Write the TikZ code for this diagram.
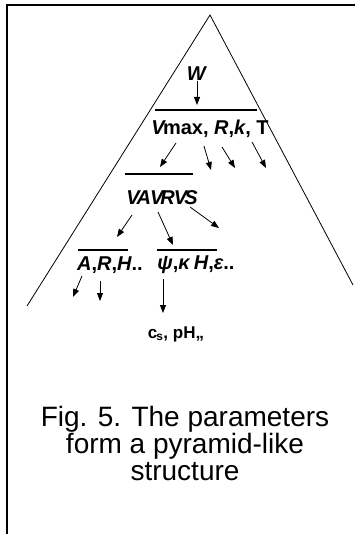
\documentclass[tikz,border=0pt]{standalone}
\usepackage{fontspec}
\setmainfont{Liberation Sans}
\usetikzlibrary{arrows.meta}
\begin{document}
\begin{tikzpicture}[x=1pt,y=-1pt,
  param/.style={font=\fontsize{20}{20}\selectfont\bfseries, inner sep=0pt},
  arrow/.style={-{Triangle[length=8pt,width=6pt]}, line width=0.8pt},
  bar/.style={line width=1.6pt},
  edge/.style={line width=0.8pt}
]
\useasboundingbox (0,0) rectangle (355,534);

% frame
\draw[line width=2.2pt] (7,534) -- (7,5) -- (355,5);

% pyramid
\coordinate (apex) at (210,15);
\coordinate (left foot) at (27,306);
\coordinate (right foot) at (353,285);
\draw[edge] (left foot) -- (apex) -- (right foot);

% parameter levels
\node[param] (w) at (197,74) {\textit{W}};
\node[param] (level1) at (210,129) {\textit{V}\kern-3pt max, \textit{R},\textit{k}, T};
\node[param] (level2) at (162,198) {\textit{V\kern-3pt A\kern-1pt V\kern-3pt R\kern-1pt V\kern-3pt S}};
\node[param] (level3a) at (110,265) {\textit{A},\textit{R},\textit{H}..};
\node[param] (level3b) at (196,265) {\textit{ψ},\textit{κ}\,\textit{H},\textit{ε}..};
\node[param, font=\fontsize{17}{17}\selectfont\bfseries] (level4) at (176,334) {c\kern-1pt\textsubscript{s}, pH,,};

% bars over the levels
\draw[bar] (155,110) -- (257,110);
\draw[bar] (125,174) -- (193,174);
\draw[bar] (78,250) -- (128,250);
\draw[bar] (157,250) -- (217,250);

% arrows between levels
\coordinate (w end) at (197,105);
\draw[arrow] (w) -- (w end);

\coordinate (vmax) at (176,143);
\coordinate (vmax end) at (160,167);
\coordinate (r) at (204,146);
\coordinate (r end) at (211,170);
\coordinate (k) at (222,147);
\coordinate (k end) at (235,168);
\coordinate (t) at (252,142);
\coordinate (t end) at (266,168);
\draw[arrow] (vmax) -- (vmax end);
\draw[arrow] (r) -- (r end);
\draw[arrow] (k) -- (k end);
\draw[arrow] (t) -- (t end);

\coordinate (va) at (132,215);
\coordinate (va end) at (117,237);
\coordinate (vr) at (158,212);
\coordinate (vr end) at (173,245);
\coordinate (vs) at (190,207);
\coordinate (vs end) at (219,228);
\draw[arrow] (va) -- (va end);
\draw[arrow] (vr) -- (vr end);
\draw[arrow] (vs) -- (vs end);

\coordinate (a) at (82,276);
\coordinate (a end) at (73,297);
\coordinate (rr) at (100,281);
\coordinate (rr end) at (100,301);
\coordinate (psi) at (163,279);
\coordinate (psi end) at (163,313);
\draw[arrow] (a) -- (a end);
\draw[arrow] (rr) -- (rr end);
\draw[arrow] (psi) -- (psi end);

% caption
\node[align=center, font=\fontsize{28}{27}\selectfont] (caption) at (185,443)
  {Fig. 5. The parameters\\form a pyramid-like\\structure};

\end{tikzpicture}
\end{document}
